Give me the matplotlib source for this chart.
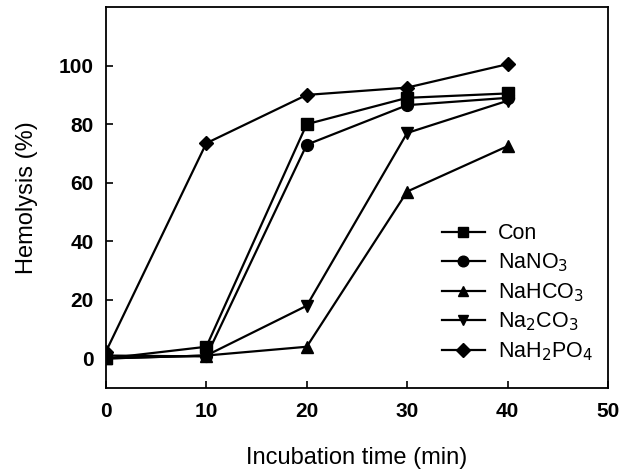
import numpy as np
import matplotlib
matplotlib.use("Agg")
import matplotlib.pyplot as plt

plt.rcParams['font.family'] = ['Liberation Sans', 'DejaVu Sans']

time = [0, 10, 20, 30, 40]
con = [0, 4, 80, 89, 90.5]
nano3 = [1, 0.7, 73, 86.5, 89]
nahco3 = [0, 1, 4, 57, 72.5]
na2co3 = [0, 1, 18, 77, 88]
nah2po4 = [2.3, 73.5, 90, 92.5, 100.5]

series = [
    (con, 's', 'Con'),
    (nano3, 'o', 'NaNO$_3$'),
    (nahco3, '^', 'NaHCO$_3$'),
    (na2co3, 'v', 'Na$_2$CO$_3$'),
    (nah2po4, 'D', 'NaH$_2$PO$_4$'),
]

fig = plt.figure(figsize=(6.34, 4.70), dpi=100)
ax = fig.add_axes([0.167, 0.175, 0.792, 0.81])
for y, m, lab in series:
    ms = 8.5 if m != 'D' else 7.5
    ax.plot(time, y, '-', color='k', lw=1.6, marker=m, ms=ms, mfc='k', mec='k', label=lab)

ax.set_xlim(0, 50)
ax.set_ylim(-10, 120)
ax.set_xticks([0, 10, 20, 30, 40, 50])
ax.set_yticks([0, 20, 40, 60, 80, 100])
ax.tick_params(direction='in', length=5, width=1.2, labelsize=15)
ax.tick_params(axis='x', pad=10)
ax.tick_params(axis='y', pad=9)
for lab in ax.get_xticklabels() + ax.get_yticklabels():
    lab.set_fontweight('bold')
for sp in ax.spines.values():
    sp.set_linewidth(1.3)
ax.set_xlabel('Incubation time (min)', fontsize=17, labelpad=19)
ax.set_ylabel('Hemolysis (%)', fontsize=17, labelpad=15)

ax.legend(loc='lower right', bbox_to_anchor=(1.0, 0.025), frameon=False, fontsize=15.5,
          handlelength=2.0, handletextpad=0.6, labelspacing=0.33, markerscale=0.9,
          borderaxespad=0.3)

fig.savefig('out.png', dpi=100)
